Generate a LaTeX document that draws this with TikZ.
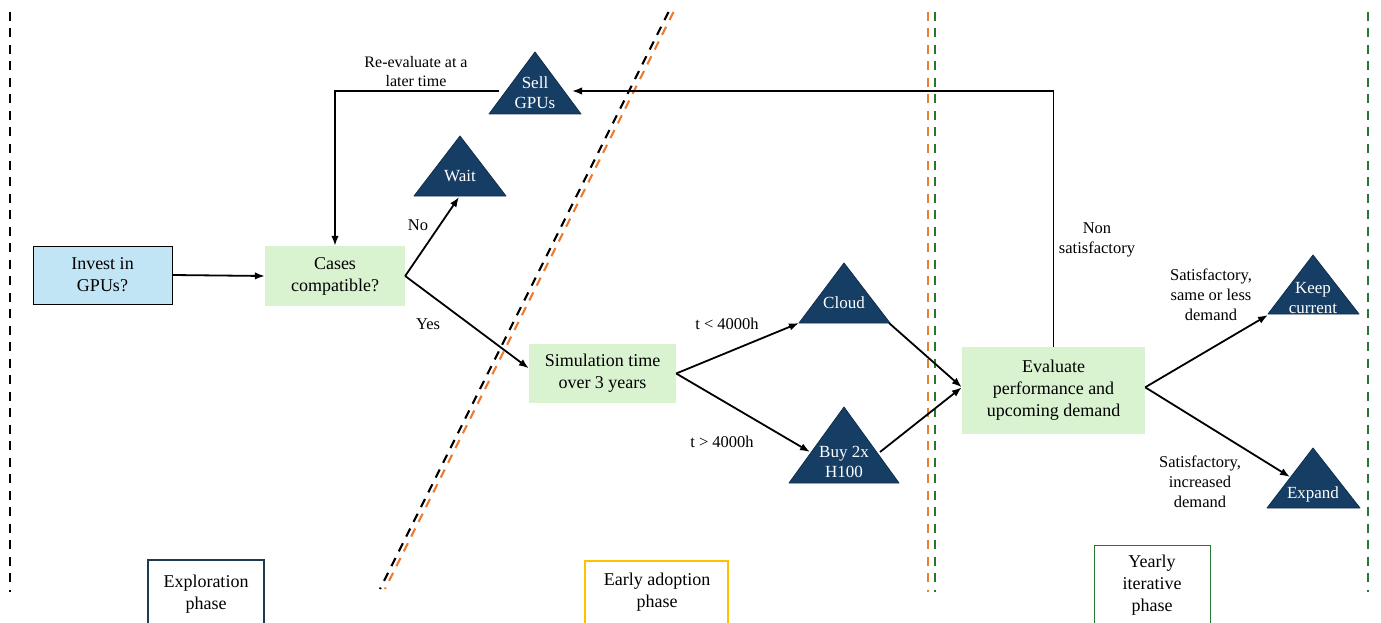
\documentclass[tikz,border=0pt]{standalone}
\usepackage{fontspec}
\setmainfont{Liberation Serif}
\usetikzlibrary{arrows.meta}
\definecolor{tribl}{RGB}{22,62,100}
\definecolor{boxgreen}{RGB}{217,242,208}
\definecolor{boxblue}{RGB}{193,229,245}
\definecolor{dorange}{RGB}{237,125,49}
\definecolor{dgreen}{RGB}{40,118,50}
\definecolor{gold}{RGB}{255,192,0}
\definecolor{navy}{RGB}{31,59,77}
\begin{document}
\begin{tikzpicture}[x=1pt,y=-1pt,
  mainbox/.style={align=center,inner sep=0pt,font=\fontsize{18}{22}\selectfont},
  greenbox/.style={mainbox,fill=boxgreen},
  arr/.style={-{Latex[length=10pt,width=7.5pt]},line width=1.8pt,black},
  lbl/.style={align=center,font=\fontsize{16.5}{20}\selectfont},
  tritext/.style={align=center,text=white,font=\fontsize{17}{20}\selectfont},
  trishape/.style={fill=tribl,draw=tribl!75!black,line width=0.8pt,line join=round},
  divider/.style={line width=2.2pt,dash pattern=on 9pt off 7.5pt},
  phasetext/.style={align=center,font=\fontsize{18}{22}\selectfont}
]
\useasboundingbox (0,0) rectangle (1381,623);
\clip (0,0) rectangle (1381,623);

% dividers
\draw[divider,black] (10,12) -- (10,592);
\draw[divider,black] (668.5,12) -- (380,589);
\draw[divider,dorange] (673.5,12) -- (385,589);
\draw[divider,dorange] (928,12) -- (928,592);
\draw[divider,dgreen] (935,12) -- (935,592);
\draw[divider,dgreen] (1368,12) -- (1368,592);

% boxes
\node[mainbox,fill=boxblue,draw=black,line width=0.9pt,minimum width=139pt,minimum height=58pt] (invest) at (102.5,275) {Invest in\\GPUs?};
\node[greenbox,minimum width=140pt,minimum height=60pt] (cases) at (335,276) {Cases\\compatible?};
\node[greenbox,minimum width=147pt,minimum height=59pt] (sim) at (602.5,373.5) {Simulation time\\over 3 years};
\node[greenbox,minimum width=183pt,minimum height=87pt] (eval) at (1053.5,390.5) {Evaluate\\performance and\\upcoming demand};

% triangles
\path[trishape] (489,114) -- (535,52) -- (581,114) -- cycle;
\node[tritext] (sell) at (535,93) {Sell\\GPUs};
\path[trishape] (414,196) -- (460,136) -- (506,196) -- cycle;
\node[tritext] (wait) at (460,176) {Wait};
\path[trishape] (799,323) -- (844,263) -- (890,323) -- cycle;
\node[tritext] (cloud) at (844,303) {Cloud};
\path[trishape] (789,483) -- (844,407) -- (899,483) -- cycle;
\node[tritext] (buy) at (844,462) {Buy 2x\\H100};
\path[trishape] (1268,314) -- (1313,255) -- (1359,314) -- cycle;
\node[tritext] (keep) at (1313,298) {Keep\\current};
\path[trishape] (1267,508) -- (1313,448) -- (1360,508) -- cycle;
\node[tritext] (expand) at (1313,494) {Expand};

% connector end points on triangles
\coordinate (waitT) at (459,197);
\coordinate (cloudL) at (799,323);
\coordinate (cloudR) at (889,323);
\coordinate (buyL) at (810,452);
\coordinate (buyR) at (880,452);
\coordinate (keepL) at (1268,315);
\coordinate (expL) at (1290,477);
\coordinate (sellR) at (572,91);
\coordinate (sellL) at (499,91);

% connectors
\draw[arr] (invest.east) -- (cases.west);
\draw[arr] (cases.east) -- (waitT);
\draw[arr] (cases.east) -- (sim.176);
\draw[arr] (sim.east) -- (cloudL);
\draw[arr] (sim.east) -- (buyL);
\draw[arr] (cloudR) -- (eval.178);
\draw[arr] (buyR) -- (eval.178);
\draw[arr] (eval.2) -- (keepL);
\draw[arr] (eval.2) -- (expL);
\draw[arr] (eval.north) |- (sellR);
\draw[arr] (sellL) -| (cases.north);

% labels
\node[lbl,font=\fontsize{16}{19}\selectfont] (lre) at (416,72) {Re-evaluate at a\\later time};
\node[lbl] (lno) at (418,225) {No};
\node[lbl] (lyes) at (428,324) {Yes};
\node[lbl] (llt) at (727,324) {t < 4000h};
\node[lbl] (lgt) at (722,442) {t > 4000h};
\node[lbl] (lnon) at (1097,240) {Non\\satisfactory};
\node[lbl] (lsame) at (1211,295) {Satisfactory,\\same or less\\demand};
\node[lbl] (linc) at (1200,482) {Satisfactory,\\increased\\demand};

% phase boxes
\draw[navy,line width=1.6pt] (148,560) rectangle (264,640);
\node[phasetext] (explo) at (206,594) {Exploration\\phase};
\draw[gold,line width=2pt] (585,561) rectangle (728,640);
\node[phasetext] (early) at (657,592) {Early adoption\\phase};
\draw[dgreen,line width=1pt] (1094,545) rectangle (1210,640);
\node[phasetext] (yearly) at (1152,585) {Yearly\\iterative\\phase};
\end{tikzpicture}
\end{document}
